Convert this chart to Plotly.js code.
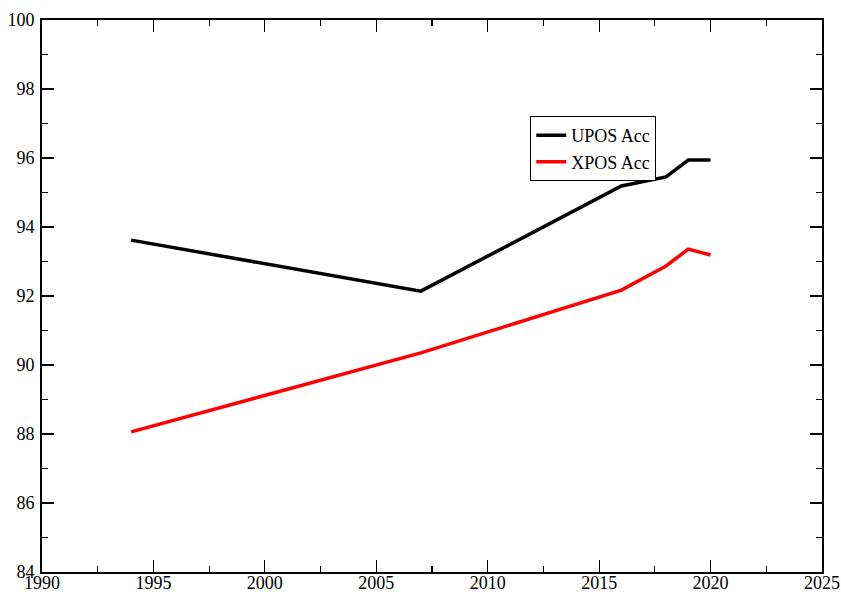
<!DOCTYPE html>
<html>
<head>
<meta charset="utf-8">
<script src="https://cdn.plot.ly/plotly-3.0.1.min.js"></script>
<style>html,body{margin:0;padding:0;background:#fff;}#chart{width:841px;height:592px;}</style>
</head>
<body>
<div id="chart"></div>
<script>
const years = [1994, 2007, 2016, 2018, 2019, 2020];
const uposAcc = [93.62, 92.14, 95.19, 95.45, 95.94, 95.94];
const xposAcc = [88.06, 90.35, 92.17, 92.87, 93.36, 93.19];

const FAM = 'Times New Roman, Liberation Serif, DejaVu Serif, serif';
const legFont = {family: FAM, size: 18, color: '#000'};

const traces = [
  {x: years, y: uposAcc, name: 'UPOS Acc', mode: 'lines', line: {color: '#000', width: 3.5}},
  {x: years, y: xposAcc, name: 'XPOS Acc', mode: 'lines', line: {color: '#ff0000', width: 3.5}}
];

function axis(extra, minorDtick, fsize) {
  return Object.assign({
    showgrid: false, zeroline: false, showline: true, linecolor: '#000', linewidth: 2,
    mirror: 'ticks', ticks: 'inside', ticklen: 12, tickwidth: 1.2, tickcolor: '#000',
    tickfont: {family: FAM, size: fsize, color: '#000'}, automargin: false,
    minor: {ticks: 'inside', ticklen: 6, tickwidth: 1.2, tickcolor: '#000', showgrid: false, dtick: minorDtick}
  }, extra);
}

const layout = {
  width: 841, height: 592,
  margin: {l: 42, r: 19, t: 20, b: 20},
  paper_bgcolor: '#fff', plot_bgcolor: '#fff',
  font: {family: FAM, size: 18, color: '#000'},
  showlegend: true,
  legend: {x: 0.626, y: 0.826, xanchor: 'left', yanchor: 'top', bordercolor: '#000', borderwidth: 1,
           bgcolor: '#fff', font: legFont, tracegroupgap: 0, itemwidth: 30},
  xaxis: axis({range: [1990, 2025], dtick: 5, tick0: 1990, ticklabelstandoff: -7}, 2.5, 18),
  yaxis: axis({range: [84, 100], dtick: 2, tick0: 84, ticklabelstandoff: 2}, 1, 18)
};

Plotly.newPlot('chart', traces, layout, {displayModeBar: false, staticPlot: true});
</script>
</body>
</html>
